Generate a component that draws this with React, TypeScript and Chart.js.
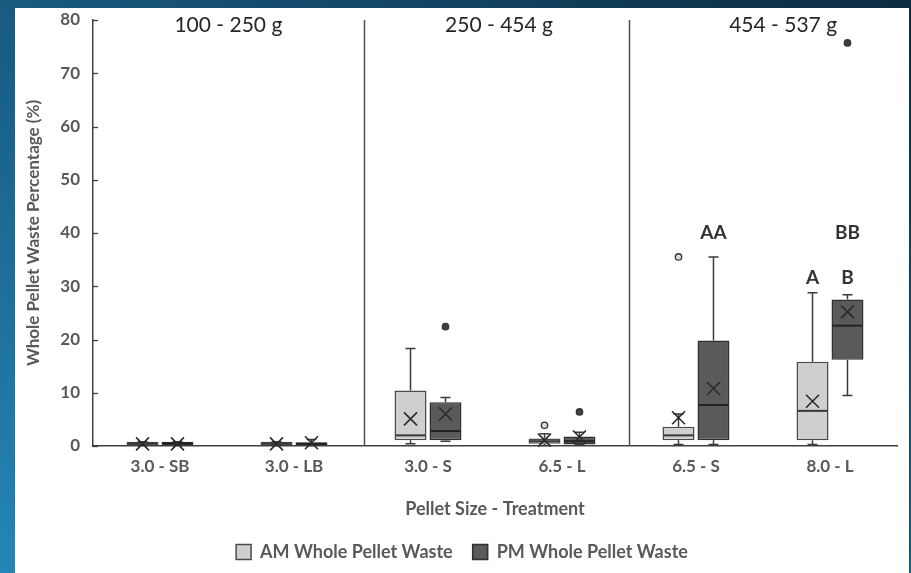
import React, { useEffect, useRef } from "react";
import { Chart, registerables } from "chart.js";
Chart.register(...registerables);

// ---------- data ----------
const categories = ["3.0 - SB", "3.0 - LB", "3.0 - S", "6.5 - L", "6.5 - S", "8.0 - L"];
const seriesNames = ["AM Whole Pellet Waste", "PM Whole Pellet Waste"];

// AM whole pellet waste (%)
const amMin = [0.1, 0.1, 0.4, 0.1, 0.3, 0.3];
const amQ1 = [0.2, 0.2, 1.1, 0.4, 1.1, 1.1];
const amMedian = [0.5, 0.5, 2.0, 0.9, 2.0, 6.6];
const amQ3 = [0.8, 0.8, 10.4, 1.4, 3.6, 15.8];
const amMax = [0.8, 0.8, 18.3, 2.3, 6.0, 28.8];
const amMean = [0.4, 0.4, 5.1, 1.1, 5.3, 8.4];
const amOutliers: number[][] = [[], [], [], [3.9], [35.5], []];

// PM whole pellet waste (%)
const pmMin = [0.1, 0.1, 0.9, 0.3, 0.3, 9.5];
const pmQ1 = [0.2, 0.2, 1.1, 0.3, 1.1, 16.2];
const pmMedian = [0.5, 0.4, 2.8, 0.9, 7.7, 22.6];
const pmQ3 = [0.8, 0.7, 8.2, 1.8, 19.8, 27.5];
const pmMax = [0.8, 1.2, 9.1, 2.6, 35.5, 28.4];
const pmMean = [0.4, 0.6, 6.0, 1.7, 10.8, 25.2];
const pmOutliers: number[][] = [[], [], [22.4], [6.4], [], [75.7]];

// weight-class groups
const groupLabels = ["100 - 250 g", "250 - 454 g", "454 - 537 g"];
const groupLabelAt = [0.51, 2.53, 4.65];
const groupDividers = [1.52, 3.5];

// significance letters
const sigLabels = ["AA", "BB", "A", "B"];
const sigCategory = [4, 5, 5, 5];
const sigSeries = [1, 1, 0, 1];
const sigValue = [40.0, 40.0, 31.6, 31.6];

const yTicks = [0, 10, 20, 30, 40, 50, 60, 70, 80];

const FONT = "Lato, 'Open Sans', sans-serif";

const stats = [
  { min: amMin, q1: amQ1, med: amMedian, q3: amQ3, max: amMax, mean: amMean, out: amOutliers },
  { min: pmMin, q1: pmQ1, med: pmMedian, q3: pmQ3, max: pmMax, mean: pmMean, out: pmOutliers },
];
const boxFill = ["#cfcfcf", "#5a5a5a"];
const boxBorder = ["#4a4a4a", "#303030"];
const medianColor = ["#3a3a3a", "#222222"];
const outlierFill = ["#d9d9d9", "#404040"];

const extrasPlugin = {
  id: "boxExtras",
  afterLayout(chart: any) {
    if (chart.legend) {
      chart.legend.left += 6;
      chart.legend.right += 6;
    }
  },
  afterDatasetsDraw(chart: any) {
    const { ctx, chartArea } = chart;
    const x = chart.scales.x;
    const y = chart.scales.y;
    ctx.save();

    // inner y ticks
    ctx.strokeStyle = "#404040";
    ctx.lineWidth = 1.3;
    yTicks.forEach((v) => {
      const py = Math.round(y.getPixelForValue(v)) + 0.5;
      ctx.beginPath();
      ctx.moveTo(chartArea.left, py);
      ctx.lineTo(chartArea.left + 5, py);
      ctx.stroke();
    });

    // group dividers
    ctx.strokeStyle = "#505050";
    ctx.lineWidth = 1.5;
    groupDividers.forEach((v) => {
      const px = Math.round(x.getPixelForValue(v)) + 0.5;
      ctx.beginPath();
      ctx.moveTo(px, chartArea.top);
      ctx.lineTo(px, chartArea.bottom);
      ctx.stroke();
    });

    // group labels
    ctx.fillStyle = "#262626";
    ctx.font = `21px ${FONT}`;
    ctx.textAlign = "center";
    ctx.textBaseline = "middle";
    groupLabels.forEach((t, i) => {
      ctx.fillText(t, x.getPixelForValue(groupLabelAt[i]), chartArea.top + 5);
    });

    // whiskers, medians, means, outliers
    stats.forEach((s, si) => {
      const meta = chart.getDatasetMeta(si);
      meta.data.forEach((bar: any, ci: number) => {
        const cx = bar.x;
        const w = bar.width;
        const cap = 5;
        ctx.strokeStyle = "#3a3a3a";
        ctx.lineWidth = 1.5;
        const yq1 = y.getPixelForValue(s.q1[ci]);
        const yq3 = y.getPixelForValue(s.q3[ci]);
        const ymin = y.getPixelForValue(s.min[ci]);
        const ymax = y.getPixelForValue(s.max[ci]);
        ctx.beginPath();
        ctx.moveTo(cx, yq3);
        ctx.lineTo(cx, ymax);
        ctx.moveTo(cx - cap, ymax);
        ctx.lineTo(cx + cap, ymax);
        ctx.moveTo(cx, yq1);
        ctx.lineTo(cx, ymin);
        ctx.moveTo(cx - cap, ymin);
        ctx.lineTo(cx + cap, ymin);
        ctx.stroke();

        // median
        const ym = y.getPixelForValue(s.med[ci]);
        ctx.strokeStyle = medianColor[si];
        ctx.lineWidth = 2;
        ctx.beginPath();
        ctx.moveTo(cx - w / 2 + 1, ym);
        ctx.lineTo(cx + w / 2 - 1, ym);
        ctx.stroke();

        // mean X
        const yMean = y.getPixelForValue(s.mean[ci]);
        const r = 6.5;
        ctx.strokeStyle = "#2a2a2a";
        ctx.lineWidth = 1.6;
        ctx.beginPath();
        ctx.moveTo(cx - r, yMean - r);
        ctx.lineTo(cx + r, yMean + r);
        ctx.moveTo(cx + r, yMean - r);
        ctx.lineTo(cx - r, yMean + r);
        ctx.stroke();

        // outliers
        s.out[ci].forEach((v) => {
          const py = y.getPixelForValue(v);
          ctx.beginPath();
          ctx.arc(cx, py, 3.2, 0, Math.PI * 2);
          ctx.fillStyle = outlierFill[si];
          ctx.fill();
          ctx.strokeStyle = "#333";
          ctx.lineWidth = 1.3;
          ctx.stroke();
        });
      });
    });

    // significance letters
    ctx.fillStyle = "#333333";
    ctx.font = `bold 19px ${FONT}`;
    ctx.textAlign = "center";
    ctx.textBaseline = "middle";
    sigLabels.forEach((t, i) => {
      const bar: any = chart.getDatasetMeta(sigSeries[i]).data[sigCategory[i]];
      ctx.fillText(t, bar.x, y.getPixelForValue(sigValue[i]));
    });

    ctx.restore();
  },
};

export default function App() {
  const ref = useRef<HTMLCanvasElement>(null);
  useEffect(() => {
    const chart = new Chart(ref.current as HTMLCanvasElement, {
      type: "bar",
      data: {
        labels: categories,
        datasets: stats.map((s, si) => ({
          label: seriesNames[si],
          data: categories.map((_, ci) => [s.q1[ci], s.q3[ci]]) as any,
          backgroundColor: boxFill[si],
          borderColor: boxBorder[si],
          borderWidth: 1.5,
          borderSkipped: false,
          categoryPercentage: 0.522,
          barPercentage: 0.914,
        })),
      },
      options: {
        animation: false,
        responsive: false,
        layout: { padding: { top: 12, right: 12, left: 0, bottom: 2 } },
        plugins: {
          tooltip: { enabled: false },
          legend: {
            position: "bottom",
            labels: {
              boxWidth: 15,
              boxHeight: 15,
              padding: 20,
              color: "#595959",
              font: { family: FONT, size: 18, weight: "bold" },
            },
          },
        },
        scales: {
          x: {
            grid: { display: false, drawTicks: false },
            border: { display: true, color: "#404040", width: 1.5 },
            ticks: { color: "#595959", font: { family: FONT, size: 17, weight: "bold" }, padding: 10 },
            title: {
              display: true,
              text: "Pellet Size - Treatment",
              color: "#595959",
              font: { family: FONT, size: 18, weight: "bold" },
              padding: { top: 0, bottom: 3 },
            },
            afterFit: (scale: any) => {
              scale.height = 77;
            },
          },
          y: {
            min: 0,
            max: 80,
            grid: { display: false, drawTicks: false },
            border: { display: true, color: "#404040", width: 1.5 },
            ticks: { stepSize: 10, color: "#595959", font: { family: FONT, size: 17, weight: "bold" }, padding: 13 },
            title: {
              display: true,
              text: "Whole Pellet Waste Percentage (%)",
              color: "#595959",
              font: { family: FONT, size: 17, weight: "bold" },
              padding: { top: 8, bottom: 0 },
            },
            afterFit: (scale: any) => {
              scale.width = 78;
              scale.paddingTop = 0;
              scale.paddingBottom = 0;
            },
          },
        },
      } as any,
      plugins: [extrasPlugin],
    });
    return () => chart.destroy();
  }, []);

  return (
    <div
      style={{
        position: "fixed",
        left: 0,
        top: 0,
        width: 911,
        height: 573,
        overflow: "hidden",
        background: "linear-gradient(to bottom left, #0c2b40 0%, #17557a 45%, #2486b6 100%)",
      }}
    >
      <div style={{ position: "absolute", left: 15, top: 8, width: 894, height: 565, background: "#ffffff" }}>
        <canvas ref={ref} width={894} height={565} style={{ display: "block", width: 894, height: 565 }} />
      </div>
    </div>
  );
}
